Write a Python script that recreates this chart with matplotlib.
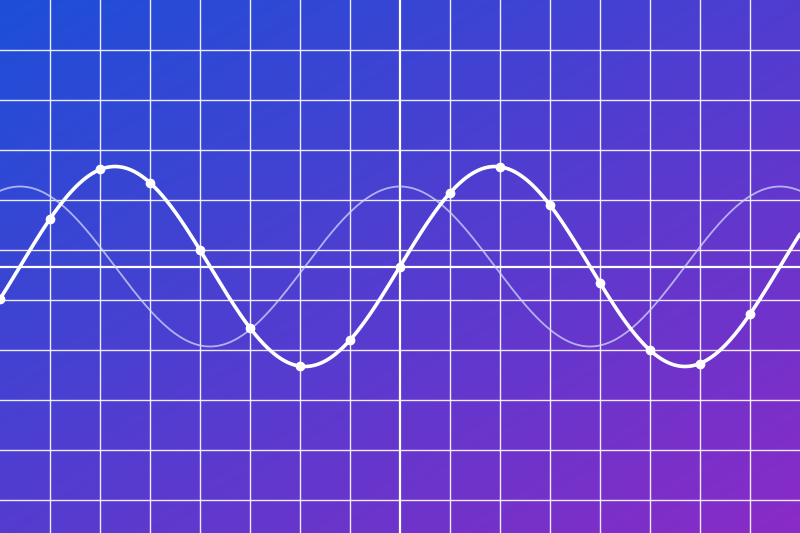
import numpy as np
import matplotlib
matplotlib.use("Agg")
from matplotlib import pyplot as plt

# corner colours of the background gradient (top-left, top-right, bottom-left, bottom-right)
corner_tl = (29, 79, 216)
corner_tr = (79, 61, 208)
corner_bl = (84, 60, 207)
corner_br = (138, 43, 199)

# wave parameters (x in grid units, 50 px each)
thick_amp = 2.0
thin_amp = 1.6
wave_period = 7.6

# sample dots on the thick wave
dot_x = [-8, -7, -6, -5, -4, -3, -2, -1, 0, 1, 2, 3, 4, 5, 6, 7]
dot_y = [-0.65, 0.95, 1.95, 1.67, 0.33, -1.23, -1.99, -1.47,
         0.0, 1.47, 1.99, 1.23, -0.33, -1.67, -1.94, -0.95]

# grid positions
grid_x = [-7, -6, -5, -4, -3, -2, -1, 1, 2, 3, 4, 5, 6, 7]
grid_y = [4.33, 3.33, 2.33, 1.33, 0.33, -0.67, -1.67, -2.67, -3.67, -4.67]

fig = plt.figure(figsize=(8, 5.33), dpi=100)
ax = fig.add_axes([0, 0, 1, 1])
ax.set_xlim(-8, 8)
ax.set_ylim(-5.33, 5.33)
ax.axis("off")

# bilinear gradient background
u = np.linspace(0, 1, 400)[None, :, None]
v = np.linspace(0, 1, 267)[:, None, None]
tl, tr = np.array(corner_tl) / 255, np.array(corner_tr) / 255
bl, br = np.array(corner_bl) / 255, np.array(corner_br) / 255
top = tl * (1 - u) + tr * u
bottom = bl * (1 - u) + br * u
img = top * (1 - v) + bottom * v
ax.imshow(img, extent=(-8, 8, -5.33, 5.33), aspect="auto", zorder=0, interpolation="bilinear")

for gx in grid_x:
    ax.axvline(gx, color="white", lw=1.0, alpha=0.9, zorder=1)
for gy in grid_y:
    ax.axhline(gy, color="white", lw=1.0, alpha=0.9, zorder=1)
ax.axvline(0, color="white", lw=1.6, zorder=1)
ax.axhline(0, color="white", lw=1.6, zorder=1)

xs = np.linspace(-8, 8, 800)
k = 2 * np.pi / wave_period
ax.plot(xs, thin_amp * np.cos(k * xs), color="#d4d8ff", lw=1.3, alpha=0.75, zorder=2)
ax.plot(xs, thick_amp * np.sin(k * xs), color="white", lw=2.6, zorder=3, solid_capstyle="round")
ax.plot(dot_x, dot_y, "o", color="white", ms=6.0, zorder=4, clip_on=True)

fig.savefig("out.png", dpi=100)
